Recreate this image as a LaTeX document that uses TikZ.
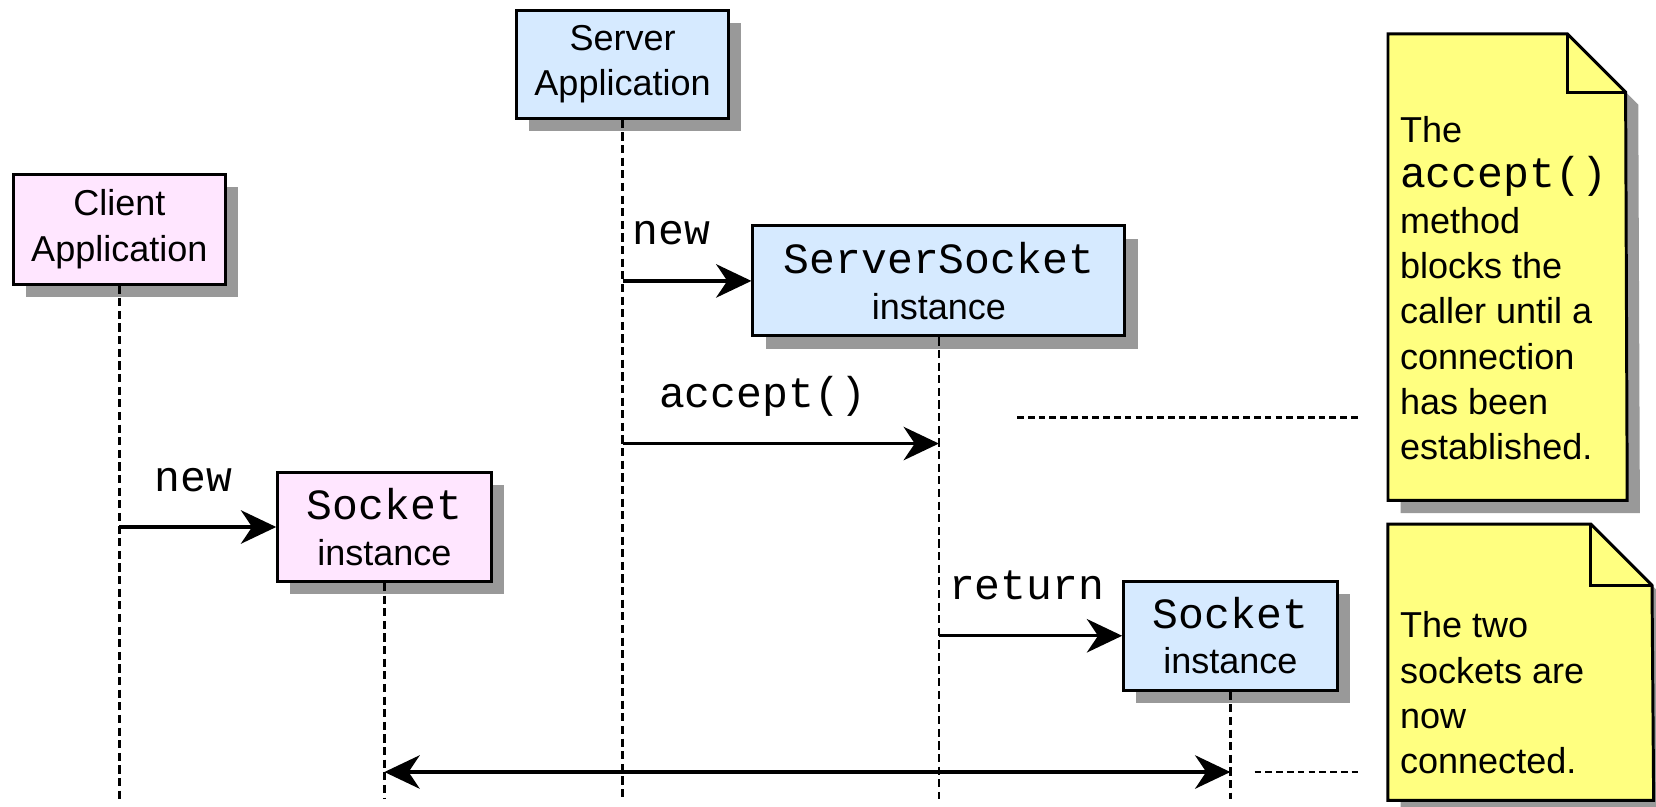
\documentclass[tikz,border=0pt]{standalone}
\usepackage{fontspec}
\setmainfont{Liberation Sans}
\setmonofont{Liberation Mono}
\usetikzlibrary{arrows.meta, positioning, shadows, calc}
\definecolor{serverblue}{RGB}{214,234,255}
\definecolor{clientpink}{RGB}{255,230,255}
\definecolor{noteyellow}{RGB}{255,255,128}
\definecolor{shadowgrey}{RGB}{153,153,153}
\newcommand{\codefont}{\ttfamily\fontsize{11.6}{12.2}\selectfont}

\begin{document}
\begin{tikzpicture}[x=0.01cm, y=-0.01cm]
\tikzstyle{block} = [rectangle, draw, line width=0.8pt, text=black, align=center,
    font=\fontsize{9.7}{12.2}\selectfont, inner sep=0pt,
    drop shadow={shadow xshift=0.12cm, shadow yshift=-0.12cm, fill=shadowgrey, opacity=1}]
\tikzstyle{server} = [block, fill=serverblue]
\tikzstyle{client} = [block, fill=clientpink]
\tikzstyle{life} = [draw, line width=0.75pt, dash pattern=on 2.2pt off 1.2pt]
\tikzstyle{line} = [draw, line width=0.9pt, -{Stealth[length=9.5pt, width=9pt, inset=3pt]}]
\tikzstyle{both} = [line, {Stealth[length=9.5pt, width=9pt, inset=3pt]}-{Stealth[length=9.5pt, width=9pt, inset=3pt]}]
\tikzstyle{msg} = [font=\codefont, anchor=base west, inner sep=0pt, yshift=0.34cm]
\tikzstyle{note} = [draw, line width=0.8pt, fill=noteyellow,
    drop shadow={shadow xshift=0.12cm, shadow yshift=-0.12cm, fill=shadowgrey, opacity=1}]
\tikzstyle{notebody} = [rectangle, inner sep=0pt]
\tikzstyle{notetext} = [anchor=west, align=left, inner sep=0pt,
    font=\fontsize{9.7}{12.2}\selectfont]
\tikzstyle{notelink} = [draw, line width=0.75pt, dash pattern=on 1.8pt off 1.1pt]

    \useasboundingbox (0,0) rectangle (1568,764);

    % Place nodes
    \node [server, minimum width=2.01cm, minimum height=1.02cm] (srvapp) at (589.5,61) {Server\\Application};
    \node [client, minimum width=2cm, minimum height=1.04cm] (cliapp) at (113,217) {Client\\Application};
    \node [server, minimum width=3.52cm, minimum height=1.04cm] (ssock) at (889,266) {{\codefont ServerSocket}\\instance};
    \node [client, minimum width=2.02cm, minimum height=1.03cm] (clisock) at (364,499) {{\codefont Socket}\\instance};
    \node [server, minimum width=2.02cm, minimum height=1.03cm] (srvsock) at (1165,602) {{\codefont Socket}\\instance};

    \coordinate (bottom) at (0,757);
    \coordinate (accept) at (ssock.south |- 0,420);
    \coordinate (link) at (0,731);

    % notes
    \node [notebody, minimum width=2.25cm, minimum height=4.4cm] (note1) at (1427.5,253) {};
    \path [note] (note1.north west) -- ++(170,0) -- ++(55,55) -- (note1.south east) -- (note1.south west) -- cycle;
    \draw [line width=0.8pt] (note1.north west) ++(170,0) -- ++(0,55) -- ++(55,0);
    \node [notetext] (note1text) at (1325,273) {The\\{\codefont accept()}\\method\\blocks the\\caller until a\\connection\\has been\\established.};

    \node [notebody, minimum width=2.5cm, minimum height=2.6cm] (note2) at (1440,627) {};
    \path [note] (note2.north west) -- ++(192,0) -- ++(58,58) -- (note2.south east) -- (note2.south west) -- cycle;
    \draw [line width=0.8pt] (note2.north west) ++(192,0) -- ++(0,58) -- ++(58,0);
    \node [notetext] (note2text) at (1325,656) {The two\\sockets are\\now\\connected.};

    % lifelines
    \path [life] (srvapp.south) -- (srvapp.south |- bottom);
    \path [life] (cliapp.south) -- (cliapp.south |- bottom);
    \path [life] (ssock.south) -- (ssock.south |- bottom);
    \path [life] (clisock.south) -- (clisock.south |- bottom);
    \path [life] (srvsock.south) -- (srvsock.south |- bottom);

    %paths
    \path [line] (srvapp.south |- ssock.west) -- (ssock.west) node [msg, pos=0, xshift=0.08cm] (newsrv) {new};
    \path [line] (srvapp.south |- accept) -- (accept) node [msg, pos=0, xshift=0.33cm] (acclbl) {accept()};
    \path [line] (cliapp.south |- clisock.west) -- (clisock.west) node [msg, pos=0, xshift=0.32cm] (newcli) {new};
    \path [line] (ssock.south |- srvsock.west) -- (srvsock.west) node [msg, pos=0, xshift=0.08cm] (retlbl) {return};
    \path [both] (clisock.south |- link) -- (srvsock.south |- link);

    \coordinate (waitend) at (963,395);
    \path [notelink] (waitend) -- ([xshift=-0.25cm]note1.west |- waitend);
    \coordinate (linkend) at (1188,731);
    \path [notelink] (linkend) -- ([xshift=-0.25cm]note2.west |- linkend);

\end{tikzpicture}
\end{document}
